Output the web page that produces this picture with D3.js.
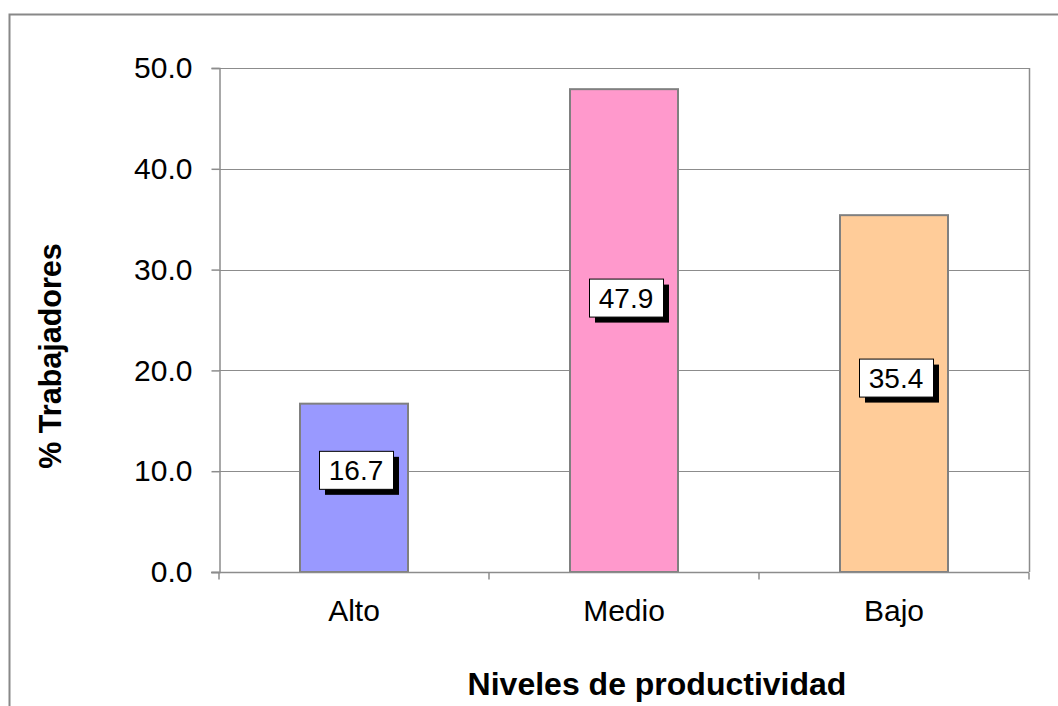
<!DOCTYPE html>
<html>
<head>
<meta charset="utf-8">
<script src="https://cdn.jsdelivr.net/npm/d3@7"></script>
<style>
  html, body { margin: 0; padding: 0; background: #fff; }
  svg { display: block; font-family: "Liberation Sans", Arial, sans-serif; }
</style>
</head>
<body>
<svg id="chart" width="1058" height="706"></svg>
<script>
// Workers by productivity level (%)
const categories = ["Alto", "Medio", "Bajo"];
const values = [16.7, 47.9, 35.4];
const barColors = ["#9999FF", "#FF99CC", "#FFCC99"];
const yTicks = [0, 10, 20, 30, 40, 50];
const yTitle = "% Trabajadores";
const xTitle = "Niveles de productividad";

const svg = d3.select("#chart");
const W = 1058, H = 706;
const plot = { left: 219, top: 68, right: 1029, bottom: 572 };

// Outer chart frame (extends past the visible canvas on the right and bottom)
svg.append("rect")
  .attr("x", 9.5).attr("y", 14.5)
  .attr("width", W + 20).attr("height", H + 20)
  .attr("fill", "#fff")
  .attr("stroke", "#888").attr("stroke-width", 2);

const x = d3.scaleBand()
  .domain(categories)
  .range([plot.left, plot.right])
  .paddingInner(0.6).paddingOuter(0.3);

const y = d3.scaleLinear()
  .domain([0, 50])
  .range([plot.bottom, plot.top]);

// Horizontal gridlines
svg.append("g")
  .selectAll("line")
  .data(yTicks.filter(t => t > 0))
  .join("line")
  .attr("x1", plot.left).attr("x2", plot.right)
  .attr("y1", d => Math.round(y(d)) + 0.5).attr("y2", d => Math.round(y(d)) + 0.5)
  .attr("stroke", "#8c8c8c").attr("stroke-width", 1);

// Plot area right border
svg.append("line")
  .attr("x1", plot.right + 0.5).attr("x2", plot.right + 0.5)
  .attr("y1", plot.top).attr("y2", plot.bottom)
  .attr("stroke", "#8c8c8c").attr("stroke-width", 1.5);

// Bars
svg.append("g")
  .selectAll("rect")
  .data(values)
  .join("rect")
  .attr("x", (d, i) => x(categories[i]))
  .attr("y", d => y(d))
  .attr("width", x.bandwidth())
  .attr("height", d => y(0) - y(d))
  .attr("fill", (d, i) => barColors[i])
  .attr("stroke", "#808080").attr("stroke-width", 2);

// Y axis
const yAxis = d3.axisLeft(y)
  .tickValues(yTicks)
  .tickFormat(d3.format(".1f"))
  .tickSize(8)
  .tickPadding(19);
const gy = svg.append("g")
  .attr("transform", `translate(${plot.left + 0.5},0)`)
  .call(yAxis);
gy.select(".domain").attr("stroke", "#8c8c8c").attr("stroke-width", 1.5);
gy.selectAll(".tick line").attr("stroke", "#8c8c8c").attr("stroke-width", 1.5);
gy.selectAll(".tick text")
  .attr("font-size", 30)
  .attr("font-family", "Liberation Sans, Arial, sans-serif")
  .attr("fill", "#000");

// X axis: line along zero with ticks at category boundaries
const gx = svg.append("g")
  .attr("transform", `translate(0,${plot.bottom + 0.5})`);
gx.append("line")
  .attr("x1", plot.left - 8).attr("x2", plot.right)
  .attr("stroke", "#8c8c8c").attr("stroke-width", 1.5);
const step = (plot.right - plot.left) / categories.length;
gx.selectAll("line.tick")
  .data(d3.range(categories.length + 1))
  .join("line")
  .attr("class", "tick")
  .attr("x1", i => plot.left + i * step).attr("x2", i => plot.left + i * step)
  .attr("y1", 0).attr("y2", 7)
  .attr("stroke", "#8c8c8c").attr("stroke-width", 1.5);
gx.selectAll("text")
  .data(categories)
  .join("text")
  .attr("x", d => x(d) + x.bandwidth() / 2)
  .attr("y", 48)
  .attr("text-anchor", "middle")
  .attr("font-size", 30)
  .attr("fill", "#000")
  .text(d => d);

// Data labels: boxed with a drop shadow, placed inside each bar
const labelNudge = [-18, -33, -16];
const boxW = 74, boxH = 38, shadow = 6;
const labels = svg.append("g")
  .selectAll("g")
  .data(values)
  .join("g")
  .attr("transform", (d, i) => {
    const cx = x(categories[i]) + x.bandwidth() / 2 + 2;
    const cy = y(d / 2) + labelNudge[i];
    return `translate(${cx},${cy})`;
  });
labels.append("rect")
  .attr("x", -boxW / 2 + shadow).attr("y", -boxH / 2 + shadow)
  .attr("width", boxW).attr("height", boxH)
  .attr("fill", "#000");
labels.append("rect")
  .attr("x", -boxW / 2 + 0.5).attr("y", -boxH / 2 + 0.5)
  .attr("width", boxW).attr("height", boxH)
  .attr("fill", "#fff").attr("stroke", "#000").attr("stroke-width", 1);
labels.append("text")
  .attr("text-anchor", "middle")
  .attr("y", 10)
  .attr("font-size", 28)
  .attr("fill", "#000")
  .text(d => d3.format(".1f")(d));

// Axis titles
svg.append("text")
  .attr("transform", "translate(61,356) rotate(-90)")
  .attr("text-anchor", "middle")
  .attr("font-size", 30.5)
  .attr("font-weight", "bold")
  .attr("fill", "#000")
  .text(yTitle);

svg.append("text")
  .attr("x", 657).attr("y", 695)
  .attr("text-anchor", "middle")
  .attr("font-size", 32)
  .attr("font-weight", "bold")
  .attr("fill", "#000")
  .text(xTitle);
</script>
</body>
</html>
